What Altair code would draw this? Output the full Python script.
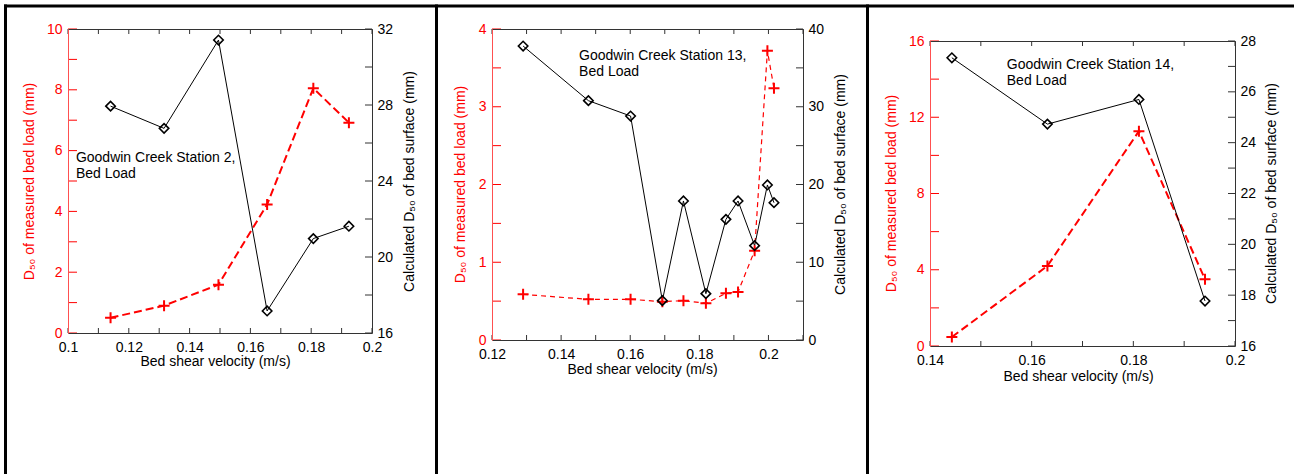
import altair as alt
import pandas as pd

W, H = 1294, 474
RED = "#ff0000"
LRED = "#ff5050"
DARK = "#333333"
FONT = "Liberation Sans, Arial, sans-serif"
PLUS = "M-1,0L1,0M0,-1L0,1"
TL_X = 5   # inward tick length, top/bottom
TL_L = 9   # inward tick length, left (red) axis
TL_R = 7   # inward tick length, right axis

# ---------------- data ----------------
# Station 2
s2_velocity = [0.114, 0.1316, 0.1495, 0.1655, 0.1807, 0.1924]
s2_bedload = [0.50, 0.90, 1.59, 4.23, 8.05, 6.92]
s2_surface = [27.94, 26.77, 31.42, 17.16, 20.97, 21.62]
s2_xticks = [0.10, 0.11, 0.12, 0.13, 0.14, 0.15, 0.16, 0.17, 0.18, 0.19, 0.20]
s2_xlabels = [0.10, 0.12, 0.14, 0.16, 0.18, 0.20]
s2_lticks = [0, 1, 2, 3, 4, 5, 6, 7, 8, 9, 10]
s2_llabels = [0, 2, 4, 6, 8, 10]
s2_rticks = [16, 18, 20, 22, 24, 26, 28, 30, 32]
s2_rlabels = [16, 20, 24, 28, 32]

# Station 13
s13_velocity = [0.129, 0.1479, 0.1601, 0.1693, 0.1754, 0.1819, 0.1877, 0.1912, 0.1960, 0.1997, 0.2016]
s13_bedload = [0.587, 0.523, 0.523, 0.493, 0.506, 0.472, 0.600, 0.617, 1.149, 3.72, 3.237]
s13_surface = [37.81, 30.78, 28.81, 5.06, 17.88, 5.96, 15.52, 17.88, 12.13, 19.94, 17.66]
s13_xticks = [0.12, 0.13, 0.14, 0.15, 0.16, 0.17, 0.18, 0.19, 0.20, 0.21]
s13_xlabels = [0.12, 0.14, 0.16, 0.18, 0.20]
s13_lticks = [0, 0.5, 1, 1.5, 2, 2.5, 3, 3.5, 4]
s13_llabels = [0, 1, 2, 3, 4]
s13_rticks = [0, 5, 10, 15, 20, 25, 30, 35, 40]
s13_rlabels = [0, 10, 20, 30, 40]

# Station 14
s14_velocity = [0.1443, 0.1631, 0.1811, 0.1941]
s14_bedload = [0.47, 4.2, 11.27, 3.5]
s14_surface = [27.34, 24.73, 25.70, 17.77]
s14_xticks = [0.14, 0.15, 0.16, 0.17, 0.18, 0.19, 0.20]
s14_xlabels = [0.14, 0.16, 0.18, 0.20]
s14_lticks = [0, 2, 4, 6, 8, 10, 12, 14, 16]
s14_llabels = [0, 4, 8, 12, 16]
s14_rticks = [16, 17, 18, 19, 20, 21, 22, 23, 24, 25, 26, 27, 28]
s14_rlabels = [16, 18, 20, 22, 24, 26, 28]

XTITLE = "Bed shear velocity (m/s)"
LTITLE = "D₅₀ of measured bed load (mm)"
RTITLE = "Calculated D₅₀ of bed surface (mm)"


def panel(vel, load, surf, xdom, ldom, rdom, box, xt, xl, lt, ll, rt, rl,
          note, note_at, tpos, dash, lw):
    x0, y0, x1, y1 = box
    ltx, rtx, tyc, btx, bty = tpos

    def xs():
        return alt.Scale(domain=xdom, range=[x0, x1], nice=False, zero=False)

    def ls():
        return alt.Scale(domain=ldom, range=[y1, y0], nice=False, zero=False)

    def rs():
        return alt.Scale(domain=rdom, range=[y1, y0], nice=False, zero=False)

    df = pd.DataFrame({"v": vel, "load": load, "surf": surf})
    base = alt.Chart(df)

    xaxis = alt.Axis(orient="bottom", offset=y1 - H, values=xl, format=".2~f",
                     ticks=False, tickSize=0, domainColor=DARK, labelPadding=14,
                     labelBaseline="middle", labelColor="black", grid=False,
                     labelFlush=False, labelOverlap=False,
                     title=XTITLE, titleX=btx, titleY=bty - y1,
                     titleBaseline="middle", titleAlign="center", zindex=2)
    topaxis = alt.Axis(orient="top", offset=-y0, labels=False, ticks=False,
                       tickSize=0, domainColor=DARK, grid=False, title=None, zindex=2)
    laxis = alt.Axis(orient="left", offset=-x0, values=ll, ticks=False, tickSize=0,
                     domainColor=LRED, labelColor=RED, labelPadding=6, grid=False,
                     labelFlush=False, labelOverlap=False,
                     title=LTITLE, titleColor=RED, titleAngle=270,
                     titleX=ltx - x0, titleY=tyc,
                     titleBaseline="middle", titleAlign="center", zindex=3)
    raxis = alt.Axis(orient="right", offset=x1 - W, values=rl, ticks=False, tickSize=0,
                     domainColor=DARK, labelColor="black", labelPadding=5, grid=False,
                     labelFlush=False, labelOverlap=False,
                     title=RTITLE, titleColor="black", titleAngle=270,
                     titleX=rtx - x1, titleY=tyc,
                     titleBaseline="middle", titleAlign="center", zindex=2)

    out = []
    out.append(base.mark_line(color=RED, strokeWidth=lw, strokeDash=dash).encode(
        x=alt.X("v:Q", scale=xs(), axis=xaxis),
        y=alt.Y("load:Q", scale=ls(), axis=laxis)))
    out.append(base.mark_line(color="black", strokeWidth=1).encode(
        x=alt.X("v:Q", scale=xs(), axis=topaxis),
        y=alt.Y("surf:Q", scale=rs(), axis=raxis)))
    xt_df = pd.DataFrame({"t": xt})
    out.append(alt.Chart(xt_df).mark_rule(color=DARK).encode(
        x=alt.X("t:Q", scale=xs(), axis=None),
        y=alt.value(y1), y2=alt.value(y1 - TL_X)))
    out.append(alt.Chart(xt_df).mark_rule(color=DARK).encode(
        x=alt.X("t:Q", scale=xs(), axis=None),
        y=alt.value(y0), y2=alt.value(y0 + TL_X)))
    out.append(alt.Chart(pd.DataFrame({"t": rt})).mark_rule(color=DARK).encode(
        y=alt.Y("t:Q", scale=rs(), axis=None),
        x=alt.value(x1), x2=alt.value(x1 - TL_R)))
    out.append(alt.Chart(pd.DataFrame({"t": lt})).mark_rule(color=RED).encode(
        y=alt.Y("t:Q", scale=ls(), axis=None),
        x=alt.value(x0), x2=alt.value(x0 + TL_L)))
    out.append(base.mark_point(shape=PLUS, size=121, strokeWidth=2, color=RED,
                               filled=False, opacity=1).encode(
        x=alt.X("v:Q", scale=xs(), axis=None),
        y=alt.Y("load:Q", scale=ls(), axis=None)))
    out.append(base.mark_point(shape="diamond", size=90, strokeWidth=1.6,
                               color="black", filled=False, opacity=1).encode(
        x=alt.X("v:Q", scale=xs(), axis=None),
        y=alt.Y("surf:Q", scale=rs(), axis=None)))
    out.append(alt.Chart(pd.DataFrame({"note": [note]})).mark_text(
        align="left", baseline="alphabetic", font=FONT, fontSize=14,
        color="black", lineBreak="\n", lineHeight=16).encode(
        x=alt.XDatum(note_at[0], type="quantitative", scale=xs(), axis=None),
        y=alt.YDatum(note_at[1], type="quantitative", scale=ls(), axis=None),
        text="note:N"))
    return out


layers = []
layers += panel(s2_velocity, s2_bedload, s2_surface, [0.1, 0.2], [0, 10], [16, 32],
                (68, 29, 372, 333), s2_xticks, s2_xlabels, s2_lticks, s2_llabels,
                s2_rticks, s2_rlabels,
                "Goodwin Creek Station 2,\n\u00a0Bed Load", (0.1026, 5.62),
                (29, 409, 181, 215, 361), [8, 4], 2)
layers += panel(s13_velocity, s13_bedload, s13_surface, [0.12, 0.21], [0, 4], [0, 40],
                (492, 29, 803, 340), s13_xticks, s13_xlabels, s13_lticks, s13_llabels,
                s13_rticks, s13_rlabels,
                "Goodwin Creek Station 13,\n\u00a0Bed Load", (0.1452, 3.60),
                (460, 840, 184, 642, 369), [5, 4], 1.2)
layers += panel(s14_velocity, s14_bedload, s14_surface, [0.14, 0.2], [0, 16], [16, 28],
                (930, 41, 1235, 346), s14_xticks, s14_xlabels, s14_lticks, s14_llabels,
                s14_rticks, s14_rlabels,
                "Goodwin Creek Station 14,\n\u00a0Bed Load", (0.1551, 14.53),
                (891, 1271, 193, 1078, 376), [8, 4], 2)

one = pd.DataFrame({"d": [0]})
frame = []
for fx in [5.5, 436.5, 867.5]:
    frame.append(alt.Chart(one).mark_rule(color="black", strokeWidth=3).encode(
        x=alt.value(fx), y=alt.value(4.5), y2=alt.value(H)))
frame.append(alt.Chart(one).mark_rule(color="black", strokeWidth=3).encode(
    x=alt.value(4), x2=alt.value(W), y=alt.value(6)))

chart = alt.layer(*layers, *frame).resolve_scale(
    x="independent", y="independent"
).resolve_axis(
    x="independent", y="independent"
).properties(
    width=W, height=H, padding=0,
    autosize=alt.AutoSizeParams(type="none"),
    background="white",
).configure_view(stroke="transparent").configure_axis(
    labelFont=FONT, titleFont=FONT, labelFontSize=14, titleFontSize=14,
    titleFontWeight="normal", domainWidth=1
)

chart.save("out.html", embed_options={"renderer": "svg", "actions": False})
